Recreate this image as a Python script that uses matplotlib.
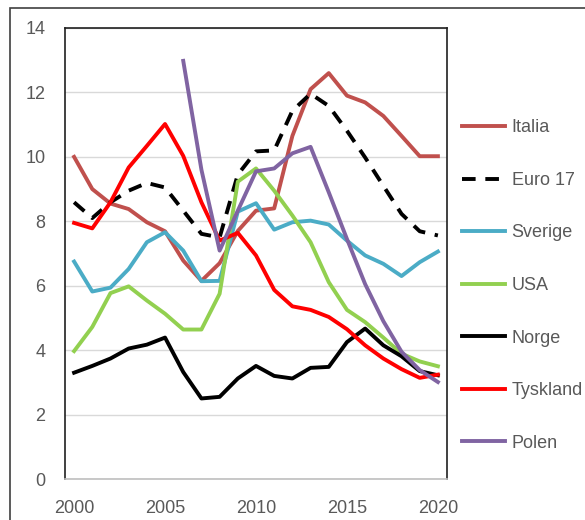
import matplotlib.pyplot as plt
from matplotlib.patches import Rectangle

years = list(range(2000, 2021))

italia = [10.0, 9.0, 8.55, 8.38, 7.97, 7.69, 6.78, 6.15, 6.7, 7.7, 8.33,
          8.4, 10.65, 12.1, 12.6, 11.9, 11.69, 11.27, 10.65, 10.02, 10.02]
euro17 = [8.59, 8.1, 8.59, 8.95, 9.19, 9.05, 8.33, 7.61, 7.5, 9.45, 10.17,
          10.2, 11.43, 11.96, 11.58, 10.81, 9.98, 9.1, 8.23, 7.69, 7.56]
sverige = [6.75, 5.82, 5.94, 6.52, 7.35, 7.66, 7.09, 6.14, 6.15, 8.3, 8.56,
           7.74, 7.97, 8.02, 7.9, 7.4, 6.94, 6.68, 6.3, 6.73, 7.06]
usa = [3.97, 4.72, 5.77, 5.98, 5.54, 5.13, 4.64, 4.64, 5.75, 9.23, 9.64,
       8.95, 8.18, 7.35, 6.11, 5.25, 4.87, 4.39, 3.89, 3.65, 3.5]
norge = [3.3, 3.51, 3.74, 4.05, 4.17, 4.39, 3.32, 2.5, 2.55, 3.12, 3.51,
         3.2, 3.12, 3.45, 3.48, 4.25, 4.67, 4.15, 3.81, 3.35, 3.22]
tyskland = [7.95, 7.78, 8.59, 9.67, 10.34, 11.02, 10.03, 8.59, 7.4, 7.64, 6.94,
            5.87, 5.36, 5.25, 5.03, 4.65, 4.15, 3.74, 3.41, 3.14, 3.24]
polen_years = list(range(2006, 2021))
polen = [12.98, 9.6, 7.09, 8.33, 9.55, 9.64, 10.11, 10.31, 8.9, 7.45, 6.05,
         4.9, 3.95, 3.38, 3.01]

plt.rcParams['font.family'] = ['Liberation Sans', 'DejaVu Sans']

fig = plt.figure(figsize=(5.85, 5.2), dpi=100)
# outer chart frame, cut off at the right and bottom edges
fig.patches.append(Rectangle((10 / 585, -0.2), 1.2, 1.2 - 8 / 520,
                             transform=fig.transFigure, fill=False,
                             edgecolor='#404040', lw=1.2))
ax = fig.add_axes([65 / 585, 1 - 479 / 520, (447 - 65) / 585, (479 - 28) / 520])

lw = 2.8
ax.plot(years, italia, color='#C0504D', lw=lw, label='Italia')
ax.plot(years, euro17, color='black', lw=lw, ls=(0, (3.5, 2.5)), label='Euro 17')
ax.plot(years, sverige, color='#4BACC6', lw=lw, label='Sverige')
ax.plot(years, usa, color='#92D050', lw=lw, label='USA')
ax.plot(years, norge, color='black', lw=lw, label='Norge')
ax.plot(years, tyskland, color='#FF0000', lw=lw, label='Tyskland')
ax.plot(polen_years, polen, color='#8064A2', lw=lw, label='Polen')

ax.set_xlim(1999.5, 2020.5)
ax.set_ylim(0, 14)
ax.set_xticks([2000, 2005, 2010, 2015, 2020])
ax.set_yticks(range(0, 15, 2))
ax.tick_params(length=0, labelsize=13, labelcolor='#595959')
ax.tick_params(axis='y', pad=14)
ax.tick_params(axis='x', pad=15)
ax.grid(axis='y', color='#D9D9D9', lw=1)
ax.set_axisbelow(True)
for s in ['top', 'left', 'right']:
    ax.spines[s].set_color('#202020')
    ax.spines[s].set_linewidth(1.2)
ax.spines['bottom'].set_color('#BFBFBF')
ax.spines['bottom'].set_linewidth(1.2)

fig.legend(loc='center left', bbox_to_anchor=(462 / 585, 1 - 285.5 / 520),
           frameon=False, fontsize=13, handlelength=2.4, handletextpad=0.35,
           labelspacing=1.97, borderpad=0, borderaxespad=0,
           labelcolor='#595959')

fig.savefig('out.png', dpi=100)
